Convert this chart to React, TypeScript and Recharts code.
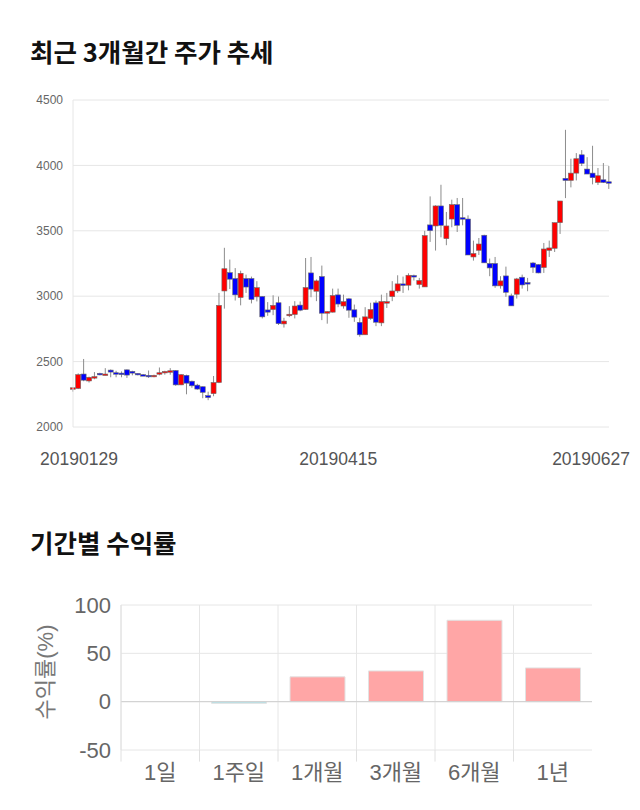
import {
    Bar,
    BarChart,
    CartesianGrid,
    Cell,
    ComposedChart,
    ReferenceLine,
    XAxis,
    YAxis,
} from "recharts";

// trading days shown in the candle chart
const dates = [
    "20190129", "20190130", "20190131",
    "20190207", "20190208", "20190211", "20190212", "20190213", "20190214", "20190215",
    "20190218", "20190219", "20190220", "20190221", "20190222", "20190225", "20190226",
    "20190227", "20190228",
    "20190304", "20190305", "20190306", "20190307", "20190308", "20190311", "20190312",
    "20190313", "20190314", "20190315", "20190318", "20190319", "20190320", "20190321",
    "20190322", "20190325", "20190326", "20190327", "20190328", "20190329",
    "20190401", "20190402", "20190403", "20190404", "20190405", "20190408", "20190409",
    "20190410", "20190411", "20190412", "20190415", "20190416", "20190417", "20190418",
    "20190419", "20190422", "20190423", "20190424", "20190425", "20190426", "20190429",
    "20190430",
    "20190502", "20190503", "20190507", "20190508", "20190509", "20190510", "20190513",
    "20190514", "20190515", "20190516", "20190517", "20190520", "20190521", "20190522",
    "20190523", "20190524", "20190527", "20190528", "20190529", "20190530", "20190531",
    "20190603", "20190604", "20190605", "20190607", "20190610", "20190611", "20190612",
    "20190613", "20190614", "20190617", "20190618", "20190619", "20190620", "20190621",
    "20190624", "20190625", "20190626", "20190627",
];

const opens = [
    2290, 2295, 2405, 2352, 2378, 2410, 2400, 2435, 2415, 2412,
    2437, 2425, 2410, 2400, 2395, 2390, 2410, 2420, 2425, 2432,
    2322, 2395, 2350, 2320, 2308, 2240, 2255, 2340, 3040, 3180,
    3135, 2990, 3135, 3135, 2995, 2998, 2895, 2898, 2950, 2788,
    2858, 2860, 2932, 2898, 3178, 3038, 3150, 2870, 2878, 3010,
    2925, 2980, 2896, 2800, 2705, 2830, 2949, 2796, 2950, 2997,
    3040, 3094, 3084, 3158, 3089, 3071, 3545, 3537, 3690, 3440,
    3590, 3700, 3600, 3590, 3300, 3351, 3466, 3250, 3250, 3079,
    3155, 3003, 3015, 3145, 3104, 3254, 3242, 3219, 3351, 3366,
    3562, 3901, 3885, 3941, 4081, 3972, 3941, 3870, 3890, 3875,
];
const highs = [
    2305, 2410, 2520, 2385, 2420, 2415, 2450, 2440, 2430, 2425,
    2440, 2430, 2410, 2405, 2432, 2400, 2455, 2430, 2450, 2435,
    2405, 2400, 2355, 2330, 2310, 2270, 2390, 3025, 3370, 3280,
    3215, 3195, 3165, 3150, 3115, 3000, 2955, 3007, 2997, 2835,
    2924, 2962, 2960, 3292, 3300, 3128, 3234, 2885, 3058, 3058,
    3012, 2987, 2936, 2835, 2916, 2950, 2967, 3012, 3025, 3115,
    3160, 3150, 3175, 3165, 3140, 3500, 3763, 3695, 3852, 3644,
    3738, 3751, 3751, 3618, 3425, 3445, 3470, 3288, 3300, 3153,
    3226, 3020, 3140, 3165, 3140, 3262, 3245, 3407, 3425, 3562,
    3728, 4272, 4051, 4094, 4117, 4063, 4150, 3980, 4018, 3995,
];
const lows = [
    2270, 2290, 2350, 2340, 2365, 2395, 2395, 2380, 2380, 2380,
    2375, 2395, 2395, 2390, 2375, 2380, 2395, 2400, 2400, 2315,
    2320, 2250, 2300, 2285, 2220, 2205, 2235, 2335, 2905, 3055,
    2967, 2930, 3025, 2945, 2960, 2830, 2850, 2855, 2780, 2760,
    2840, 2830, 2885, 2895, 2992, 2962, 2817, 2790, 2875, 2916,
    2905, 2835, 2804, 2690, 2705, 2820, 2771, 2771, 2910, 2962,
    3025, 3025, 3045, 3120, 3058, 3071, 3415, 3349, 3450, 3390,
    3527, 3491, 3542, 3315, 3272, 3315, 3255, 3153, 3064, 3058,
    2995, 2926, 2982, 3058, 3038, 3178, 3175, 3178, 3300, 3338,
    3476, 3750, 3832, 3885, 3995, 3934, 3855, 3850, 3865, 3820,
];
const closes = [
    2300, 2400, 2358, 2380, 2385, 2400, 2405, 2420, 2410, 2410,
    2397, 2412, 2402, 2397, 2392, 2395, 2415, 2425, 2430, 2322,
    2400, 2335, 2315, 2290, 2265, 2225, 2340, 2930, 3210, 3130,
    3010, 3175, 3070, 2975, 3065, 2842, 2878, 2930, 2790, 2810,
    2862, 2925, 2893, 3066, 3054, 3117, 2870, 2883, 3005, 2940,
    2958, 2893, 2840, 2705, 2842, 2898, 2801, 2959, 2958, 3040,
    3094, 3084, 3160, 3147, 3120, 3463, 3501, 3690, 3542, 3537,
    3700, 3542, 3590, 3315, 3326, 3399, 3255, 3216, 3079, 3117,
    3030, 2926, 3132, 3086, 3096, 3221, 3178, 3361, 3369, 3562,
    3728, 3885, 3941, 4051, 4015, 3934, 3906, 3921, 3870, 3870,
];
const priceTicks = [2000, 2500, 3000, 3500, 4000, 4500];

// period returns (%)
const periods = ["1일", "1주일", "1개월", "3개월", "6개월", "1년"];
const returns = [0, -1.7, 25.7, 31.8, 84.2, 34.9];
const returnTicks = [-50, 0, 50, 100];

const candles = dates.map((date, i) => ({
    i,
    date,
    open: opens[i],
    high: highs[i],
    low: lows[i],
    close: closes[i],
}));
const dateTicks = [0, 49, dates.length - 1];

// bars sit in the middle of unit-wide slots on a numeric axis
const returnData = periods.map((name, i) => ({ name, pos: i + 0.5, value: returns[i] }));
const slotCenters = returnData.map((d) => d.pos);
const slotEdges = periods.map((_, i) => i);

const FONT = '"Liberation Sans", Arial, "Noto Sans CJK KR", sans-serif';

function Candle(props: any) {
    const { x, y, width, height, payload } = props;
    const top = Math.min(y, y + height);
    const h = Math.abs(height);
    const k = h / (payload.high - payload.low || 1);
    const bodyTop = top + (payload.high - Math.max(payload.open, payload.close)) * k;
    const bodyH = Math.max(Math.abs(payload.open - payload.close) * k, 1.5);
    const up = payload.close >= payload.open;
    const cx = x + width / 2;
    return (
        <g>
            <line x1={cx} x2={cx} y1={top} y2={top + h} stroke="#8c8c8c" strokeWidth={1} />
            <rect
                x={x}
                y={bodyTop}
                width={width}
                height={bodyH}
                fill={up ? "#ff0000" : "#0000ff"}
                stroke="#6b6b6b"
                strokeWidth={0.6}
            />
        </g>
    );
}

function DateTick(props: any) {
    const { x, y, payload, index } = props;
    const last = index === dateTicks.length - 1;
    const first = index === 0;
    return (
        <text
            x={first ? x - 33 : last ? x + 21 : x}
            y={y}
            dy="0.71em"
            textAnchor={first ? "start" : last ? "end" : "middle"}
            fill="#555"
            fontSize={17.5}
            fontFamily={FONT}
        >
            {dates[payload.value]}
        </text>
    );
}

const titleStyle: React.CSSProperties = {
    position: "absolute",
    left: 30,
    fontSize: 25.5,
    fontWeight: 700,
    color: "#111",
    lineHeight: "36px",
    whiteSpace: "nowrap",
};

export default function App() {
    return (
        <div
            style={{
                position: "absolute",
                left: 0,
                top: 0,
                width: 640,
                height: 810,
                background: "#fff",
                fontFamily: '"Noto Sans CJK KR", sans-serif',
            }}
        >
            <div style={{ ...titleStyle, top: 33 }}>최근 3개월간 주가 추세</div>

            <div style={{ position: "absolute", left: 0, top: 0 }}>
                <ComposedChart
                    width={640}
                    height={480}
                    data={candles}
                    margin={{ top: 100, right: 31, bottom: 0, left: 0 }}
                >
                    <CartesianGrid vertical={false} stroke="#e6e6e6" />
                    <XAxis
                        dataKey="i"
                        type="number"
                        domain={[0, dates.length - 1]}
                        ticks={dateTicks}
                        interval={0}
                        height={53}
                        axisLine={false}
                        tickLine={false}
                        tickSize={0}
                        tickMargin={26}
                        tick={<DateTick />}
                    />
                    <YAxis
                        type="number"
                        domain={[2000, 4500]}
                        ticks={priceTicks}
                        width={73}
                        axisLine={{ stroke: "#e6e6e6" }}
                        tickLine={false}
                        tickSize={0}
                        tickMargin={10}
                        tick={{ fill: "#666", fontSize: 12, fontFamily: FONT }}
                    />
                    <Bar
                        dataKey={(d: any) => [d.low, d.high]}
                        barSize={5}
                        shape={<Candle />}
                        isAnimationActive={false}
                    />
                </ComposedChart>
            </div>

            <div style={{ ...titleStyle, top: 524 }}>기간별 수익률</div>

            <div style={{ position: "absolute", left: 0, top: 590 }}>
                <BarChart
                    width={640}
                    height={210}
                    data={returnData}
                    margin={{ top: 15, right: 48, bottom: 0, left: 0 }}
                >
                    <CartesianGrid stroke="#e6e6e6" verticalValues={slotEdges} />
                    <XAxis
                        dataKey="pos"
                        type="number"
                        domain={[0, periods.length]}
                        allowDataOverflow
                        ticks={slotCenters}
                        interval={0}
                        tickFormatter={(v: number) => periods[Math.floor(v)]}
                        axisLine={false}
                        tickLine={false}
                        tickSize={0}
                        tickMargin={14}
                        height={50}
                        tick={{ fill: "#666", fontSize: 22, fontFamily: FONT }}
                    />
                    <YAxis
                        type="number"
                        domain={[-50, 100]}
                        ticks={returnTicks}
                        width={121}
                        axisLine={{ stroke: "#e0e0e0" }}
                        tickLine={false}
                        tickSize={0}
                        tickMargin={10}
                        tick={{ fill: "#666", fontSize: 22, fontFamily: FONT }}
                    />
                    {slotEdges.map((e) => (
                        <ReferenceLine
                            key={e}
                            segment={[
                                { x: e, y: -50 },
                                { x: e, y: -62 },
                            ]}
                            ifOverflow="visible"
                            stroke="#e0e0e0"
                        />
                    ))}
                    <ReferenceLine y={0} stroke="#cfcfcf" />
                    <Bar
                        dataKey="value"
                        barSize={55}
                        stroke="#e2e2e2"
                        isAnimationActive={false}
                    >
                        {returnData.map((d) => (
                            <Cell key={d.name} fill={d.value < 0 ? "#a8dfe8" : "#ffa6a6"} />
                        ))}
                    </Bar>
                </BarChart>
            </div>

            <svg
                width={80}
                height={200}
                style={{ position: "absolute", left: 0, top: 580 }}
            >
                <text
                    x={45}
                    y={92}
                    transform="rotate(-90 45 92)"
                    textAnchor="middle"
                    dominantBaseline="central"
                    fill="#777"
                    fontSize={22}
                    fontFamily={FONT}
                >
                    수익률(%)
                </text>
            </svg>
        </div>
    );
}
